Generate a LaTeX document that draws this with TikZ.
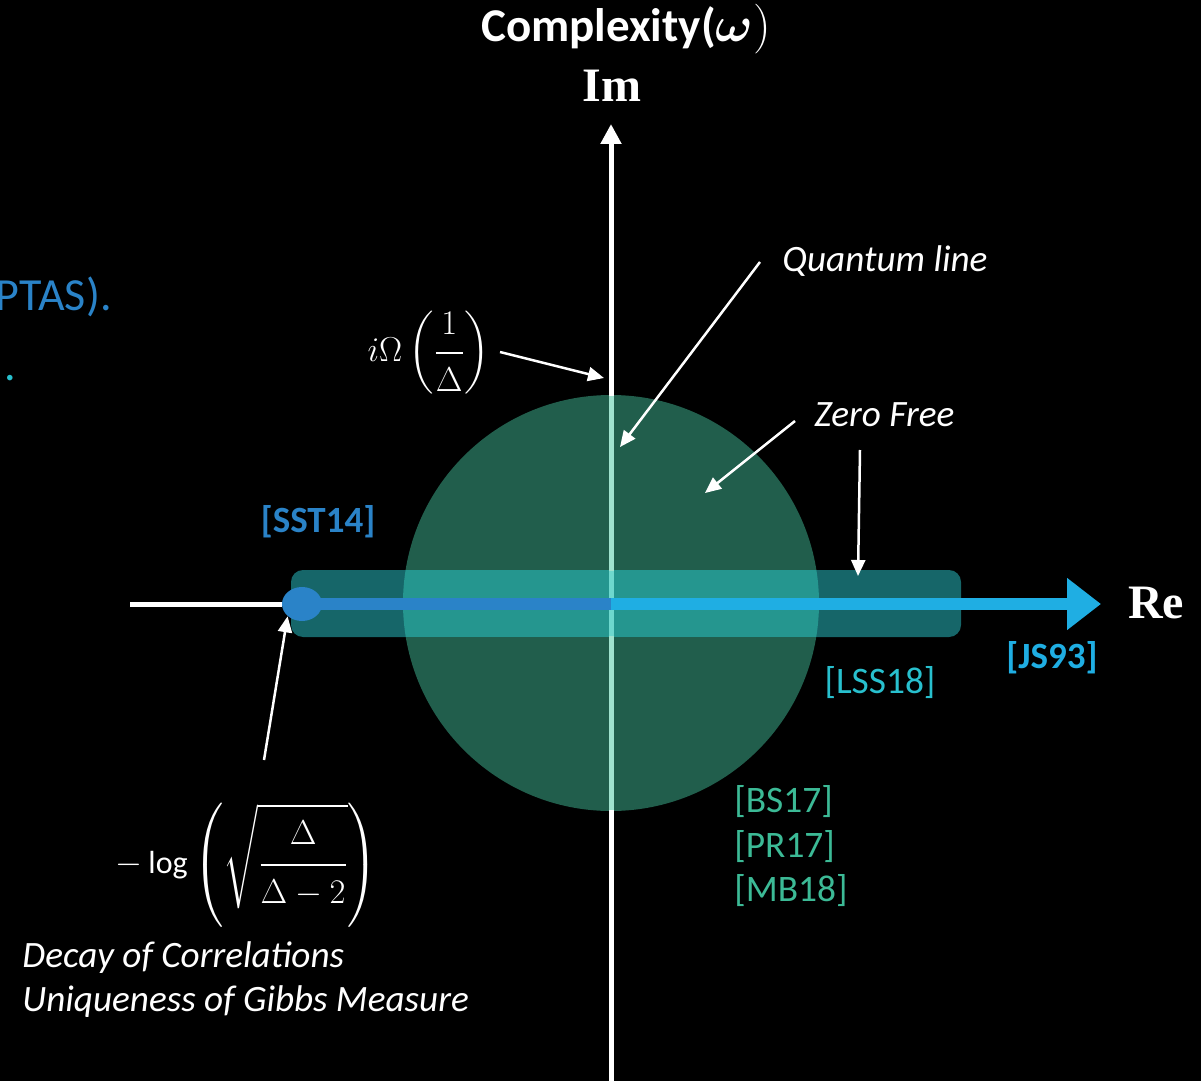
\documentclass[tikz,border=0pt]{standalone}
\usepackage{amsmath}
\usepackage{fontspec}
\setmainfont{Carlito}
\newfontfamily\serifb{Liberation Serif}
\usetikzlibrary{arrows.meta,shapes.geometric}
\definecolor{dblue}{RGB}{42,131,200}
\definecolor{lblue}{RGB}{31,174,227}
\definecolor{cyanc}{RGB}{40,192,206}
\definecolor{greenc}{RGB}{60,186,150}
\definecolor{circc}{RGB}{33,94,76}
\definecolor{rectc}{RGB}{22,102,105}
\definecolor{overc}{RGB}{37,150,143}
\definecolor{linein}{RGB}{160,226,206}
\definecolor{lineov}{RGB}{110,216,206}
\begin{document}
\begin{tikzpicture}[x=0.5pt,y=-0.5pt,
  ital/.style={text=white,inner sep=0pt,anchor=west,font=\fontsize{18.6}{22}\selectfont\itshape},
  cite/.style={inner sep=0pt,font=\fontsize{18.7}{22}\selectfont},
  mathl/.style={text=white,inner sep=0pt,font=\fontsize{16}{19}\selectfont},
  axlabel/.style={text=white,inner sep=0pt,font=\fontsize{24}{28}\selectfont\serifb\bfseries},
  ptr/.style={draw=white,line width=1.25pt,-{Triangle[length=8pt,width=7pt]}},
  axis/.style={draw=white,line width=2.5pt}]
\fill[black] (0,0) rectangle (1201,1081);
\useasboundingbox (0,0) rectangle (1201,1081);
% zero-free disc and strip
\fill[circc] (611,603) circle (208);
\fill[rectc, rounded corners=6pt] (291,570) rectangle (961,637);
\begin{scope}
  \clip (611,603) circle (208);
  \fill[overc] (291,570) rectangle (961,637);
\end{scope}
% imaginary axis
\coordinate (imbot) at (611,1081);
\coordinate (imtop) at (611,124);
\draw[axis,-{Triangle[length=10pt,width=10pt]}] (imbot) -- (imtop);
\coordinate (cin1) at (611,396);
\coordinate (cin2) at (611,810);
\coordinate (rin1) at (611,571);
\coordinate (rin2) at (611,636);
\draw[linein,line width=2.5pt] (cin1) -- (cin2);
\draw[lineov,line width=2.5pt] (rin1) -- (rin2);
% real axis
\coordinate (lend) at (130,604);
\coordinate (orig) at (611,604);
\coordinate (reend) at (1101,604);
\node[ellipse,fill=dblue,minimum width=20pt,minimum height=17pt,inner sep=0pt] (dot) at (302,604) {};
\draw[axis] (lend) -- (dot.west);
\draw[dblue,line width=6pt] (dot.center) -- (orig);
\draw[lblue,line width=6pt,-{Triangle[length=17pt,width=25pt]}] (orig) -- (reend);
% titles
\node[text=white,inner sep=0pt,font=\fontsize{23.5}{27}\selectfont\bfseries] (title) at (626,29) {Complexity(\fontsize{25}{29}\selectfont$\boldsymbol{\omega})$};
\node[axlabel] (im) at (612,86) {Im};
\node[axlabel] (re) at (1156,603) {Re};
% truncated left text
\node[text=dblue,inner sep=0pt,anchor=east,font=\fontsize{23}{28}\selectfont] (ptas) at (112,297) {PTAS).};
\node[text=cyanc,inner sep=0pt,anchor=east,font=\fontsize{23}{28}\selectfont] (dotc) at (17,378) {.};
% math labels
\node[mathl] (omega) at (429,353) {$i\Omega\left(\dfrac{\rule[-7pt]{0pt}{0pt}1}{\rule{0pt}{17pt}\Delta}\right)$};
\coordinate (omegatip) at (604,378);
\draw[ptr] (500,352) -- (omegatip);
\node[mathl] (logl) at (247,865) {$-\log\left(\sqrt{\rule[-17pt]{0pt}{49pt}\dfrac{\rule[-8pt]{0pt}{0pt}\Delta}{\rule{0pt}{17pt}\Delta-2}}\right)$};
\coordinate (logtail) at (264,760);
\draw[ptr] (logtail) -- (dot.south west);
% annotations
\node[ital] (qline) at (782,261) {Quantum line};
\coordinate (qtail) at (760,262);
\coordinate (qtip) at (620,447);
\draw[ptr] (qtail) -- (qtip);
\node[ital] (zfree) at (814,415) {Zero Free};
\coordinate (ztail) at (795,421);
\coordinate (ztip) at (705,493);
\draw[ptr] (ztail) -- (ztip);
\coordinate (z2tail) at (860,450);
\coordinate (z2tip) at (858,576);
\draw[ptr] (z2tail) -- (z2tip);
\node[ital] (decay) at (22,958) {Decay of Correlations};
\node[ital] (uniq) at (22,1002) {Uniqueness of Gibbs Measure};
% citations
\node[cite,text=dblue,font=\fontsize{18.5}{22}\selectfont\bfseries] (sst) at (318,522) {[SST14]};
\node[cite,text=lblue,font=\fontsize{18.5}{22}\selectfont\bfseries] (js) at (1052,658) {[JS93]};
\node[cite,text=cyanc] (lss) at (880,683) {[LSS18]};
\node[cite,text=greenc,anchor=west] (bs) at (734,802) {[BS17]};
\node[cite,text=greenc,anchor=west] (pr) at (734,847) {[PR17]};
\node[cite,text=greenc,anchor=west] (mb) at (734,891) {[MB18]};
\end{tikzpicture}
\end{document}
